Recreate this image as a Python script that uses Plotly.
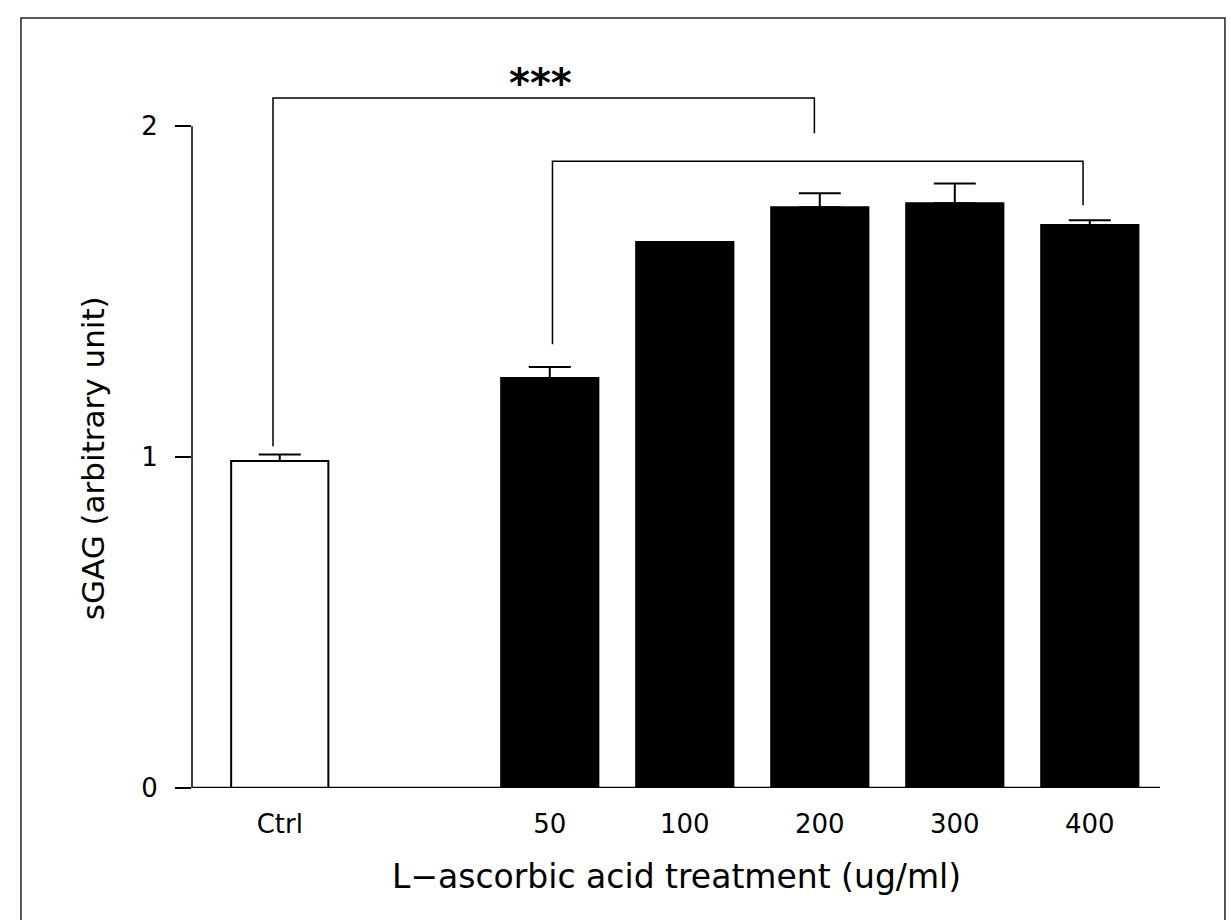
import plotly.graph_objects as go

# ---- data ----
categories = ["Ctrl", "50", "100", "200", "300", "400"]
x_pos = [0, 2, 3, 4, 5, 6]
values = [0.988, 1.239, 1.650, 1.755, 1.767, 1.701]
errors = [0.020, 0.033, 0.000, 0.042, 0.060, 0.015]
bar_colors = ["white", "black", "black", "black", "black", "black"]
y_ticks = [0, 1, 2]
y_title = "sGAG (arbitrary unit)"
x_title = "L\u2212ascorbic acid treatment (ug/ml)"
sig_label = "<b>***</b>"
# brackets: (x left, x right, y top, y left end, y right end)
bracket1 = [-0.05, 3.96, 2.085, 1.033, 1.979]
bracket2 = [2.02, 5.95, 1.894, 1.341, 1.761]
star_pos = [1.93, 2.13]

FONT = "DejaVu Sans"

fig = go.Figure()
fig.add_trace(go.Bar(
    x=x_pos, y=values, width=0.72,
    marker=dict(color=bar_colors, line=dict(color="black", width=2)),
    error_y=dict(type="data", array=errors, arrayminus=[0]*len(errors),
                 symmetric=False, color="black", thickness=2, width=21),
    showlegend=False,
))

shapes = []
# y axis line from 0 to 2
shapes.append(dict(type="line", xref="paper", yref="y", x0=0, x1=0,
                   y0=0, y1=max(y_ticks), line=dict(color="black", width=1.5)))
# x axis line
shapes.append(dict(type="line", xref="x", yref="y", x0=-0.74, x1=6.52,
                   y0=0, y1=0, line=dict(color="black", width=2.5)))
for b in (bracket1, bracket2):
    xl, xr, yt, yl, yr = b
    shapes.append(dict(type="path", xref="x", yref="y",
                       path=f"M {xl},{yl} L {xl},{yt} L {xr},{yt} L {xr},{yr}",
                       line=dict(color="black", width=1.5)))
# page frame
shapes.append(dict(type="path", xref="paper", yref="paper",
                   path="M -0.1767,-0.3 L -0.1767,1.0577 L 1.0671,1.0577 L 1.0671,-0.3",
                   line=dict(color="#222", width=1.5)))

annotations = [
    dict(x=star_pos[0], y=star_pos[1], xref="x", yref="y", text=sig_label,
         showarrow=False, font=dict(family=FONT, size=40, color="black"),
         xanchor="center", yanchor="middle"),
    dict(x=-0.1023, y=0.453, xref="paper", yref="paper", text=y_title,
         textangle=-90, showarrow=False,
         font=dict(family=FONT, size=31, color="black"),
         xanchor="center", yanchor="middle"),
    dict(x=0.501, y=-0.122, xref="paper", yref="paper", text=x_title,
         showarrow=False, font=dict(family=FONT, size=33, color="black"),
         xanchor="center", yanchor="middle"),
]

fig.update_layout(
    width=1231, height=920, autosize=False,
    margin=dict(l=192, r=71, t=60, b=132),
    paper_bgcolor="white", plot_bgcolor="white",
    font=dict(family=FONT, color="black"),
    shapes=shapes, annotations=annotations,
    xaxis=dict(range=[-0.65, 6.52], tickmode="array", tickvals=x_pos,
               ticktext=categories, showgrid=False, zeroline=False,
               showline=False, ticks="", ticklabelstandoff=18,
               tickfont=dict(family=FONT, size=26, color="black")),
    yaxis=dict(range=[0, 2.2], tickmode="array", tickvals=y_ticks,
               showgrid=False, zeroline=False, showline=False,
               ticks="outside", ticklen=16, tickwidth=1.5, tickcolor="black",
               ticklabelstandoff=12,
               tickfont=dict(family=FONT, size=26, color="black")),
)

fig.write_html("out.html")
